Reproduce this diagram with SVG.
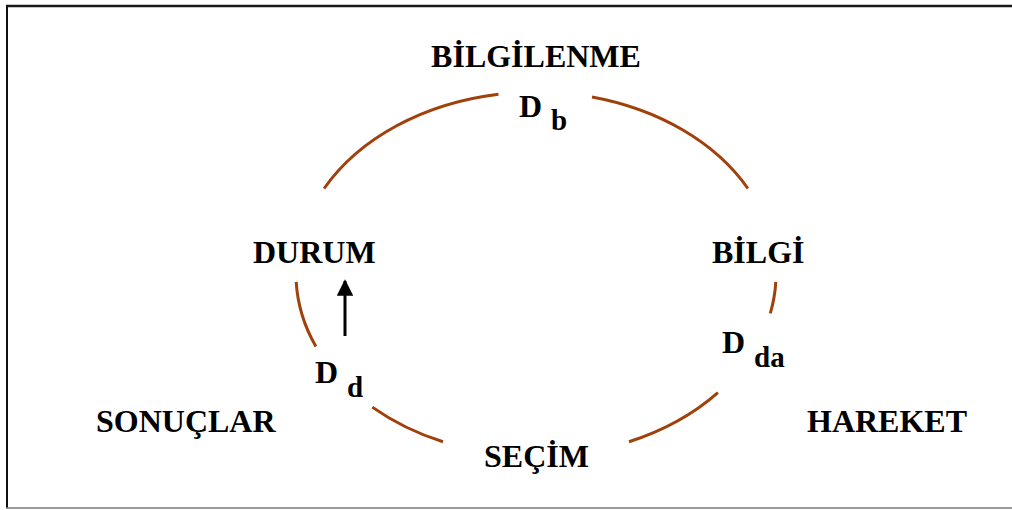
<svg xmlns="http://www.w3.org/2000/svg" width="1012" height="510" viewBox="0 0 1012 510">
  <style>
    .lbl { font-family: "Liberation Serif", "Times New Roman", serif; font-weight: bold; font-size: 32px; fill: #000; }
    .sub { font-size: 29px; }
    .arc { fill: none; stroke: #A0400A; stroke-width: 3; stroke-linecap: butt; }
  </style>
  <defs>
    <marker id="head" viewBox="0 0 10 10" refX="9" refY="5" markerWidth="5.5" markerHeight="5.5" orient="auto" markerUnits="strokeWidth">
      <path d="M0,0 L10,5 L0,10 z" fill="#000"/>
    </marker>
  </defs>

  <rect width="1012" height="510" fill="#fff"/>

  <!-- frame: open on the right -->
  <g id="frame">
    <line x1="6" y1="6" x2="1012" y2="6" stroke="#1a1a1a" stroke-width="2.5"/>
    <line x1="7" y1="5" x2="7" y2="508" stroke="#111" stroke-width="2"/>
    <line x1="6" y1="508" x2="1012" y2="508" stroke="#777" stroke-width="1.5"/>
  </g>

  <!-- cycle ring, broken where labels sit -->
  <g id="connectors">
    <path class="arc" d="M324.1,188.5 A240,182 0 0 1 498.5,94.2"/>
    <path class="arc" d="M592,97 A240,182 0 0 1 747.9,188.5"/>
    <path class="arc" d="M775.8,281.9 A240,182 0 0 1 770.3,313.4"/>
    <path class="arc" d="M717.9,392.7 A240,182 0 0 1 629,441.8"/>
    <path class="arc" d="M443,441.8 A240,182 0 0 1 372.3,407.1"/>
    <path class="arc" d="M315.9,346.6 A240,182 0 0 1 296.2,281.9"/>
    <line x1="345" y1="336" x2="345" y2="281" stroke="#000" stroke-width="3" marker-end="url(#head)"/>
  </g>

  <g id="bilgilenme"><text class="lbl" x="536" y="67" text-anchor="middle">BİLGİLENME</text></g>
  <g id="db"><text class="lbl" x="519" y="117">D<tspan class="sub" x="551" y="130">b</tspan></text></g>
  <g id="durum"><text class="lbl" x="253" y="263">DURUM</text></g>
  <g id="bilgi"><text class="lbl" x="712" y="263">BİLGİ</text></g>
  <g id="dda"><text class="lbl" x="722" y="353">D<tspan class="sub" x="754" y="367">da</tspan></text></g>
  <g id="dd"><text class="lbl" x="315" y="383">D<tspan class="sub" x="347" y="397">d</tspan></text></g>
  <g id="sonuclar"><text class="lbl" x="96" y="432">SONUÇLAR</text></g>
  <g id="hareket"><text class="lbl" x="807" y="432">HAREKET</text></g>
  <g id="secim"><text class="lbl" x="484" y="467">SEÇİM</text></g>
</svg>
